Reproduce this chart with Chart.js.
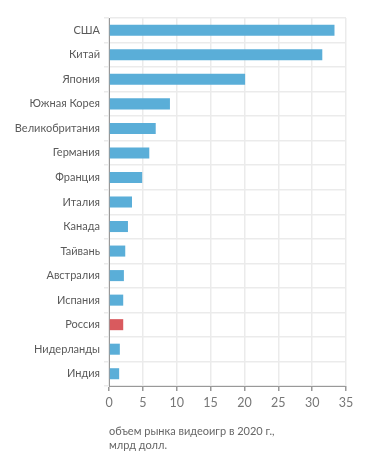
<!DOCTYPE html>
<html>
<head>
<meta charset="utf-8">
<script src="https://cdn.jsdelivr.net/npm/chart.js@4"></script>
<style>
  html, body { margin: 0; padding: 0; background: #fff; }
  #wrap { position: relative; width: 371px; height: 466px; }
  #note {
    position: absolute; left: 109px; top: 424px;
    font-family: Lato, sans-serif; font-size: 11px; line-height: 14px; color: #666;
  }
</style>
</head>
<body>
<div id="wrap">
  <canvas id="chart" width="371" height="466"></canvas>
  <div id="note">объем рынка видеоигр в 2020 г.,<br>млрд долл.</div>
</div>
<script>
// video game market size 2020, billion USD
const countries = ['США', 'Китай', 'Япония', 'Южная Корея', 'Великобритания', 'Германия', 'Франция',
  'Италия', 'Канада', 'Тайвань', 'Австралия', 'Испания', 'Россия', 'Нидерланды', 'Индия'];
const marketValues = [33.3, 31.5, 20.1, 9.0, 6.9, 5.95, 4.9, 3.4, 2.8, 2.4, 2.2, 2.1, 2.1, 1.6, 1.5];
const highlight = 'Россия';
const xTicks = [0, 5, 10, 15, 20, 25, 30, 35];

const barColors = countries.map(c => c === highlight ? '#d95a5e' : '#5aaed8');

new Chart(document.getElementById('chart').getContext('2d'), {
  type: 'bar',
  data: {
    labels: countries,
    datasets: [{
      data: marketValues,
      backgroundColor: barColors,
      borderWidth: 0,
      barPercentage: 0.45,
      categoryPercentage: 1
    }]
  },
  options: {
    indexAxis: 'y',
    responsive: false,
    animation: false,
    layout: { padding: { top: 18, right: 25, left: 0, bottom: 0 } },
    plugins: { legend: { display: false }, tooltip: { enabled: false } },
    scales: {
      x: {
        min: 0, max: 35,
        afterBuildTicks: (scale) => { scale.ticks = xTicks.map(v => ({ value: v })); },
        afterFit: (scale) => { scale.height = 80; },
        grid: { color: '#ebebeb', lineWidth: 1.5, tickColor: '#999', tickLength: 5, drawTicks: true },
        border: { color: '#999' },
        ticks: { color: '#777', font: { family: 'Lato', size: 12.5 }, padding: 4 }
      },
      y: {
        afterFit: (scale) => { scale.width = 109; },
        grid: { color: '#ebebeb', lineWidth: 1.5, tickColor: '#ebebeb', tickLength: 5 },
        border: { color: '#999' },
        ticks: { color: '#5a5a5a', font: { family: 'Lato', size: 11 }, padding: 4 }
      }
    }
  }
});
</script>
</body>
</html>
